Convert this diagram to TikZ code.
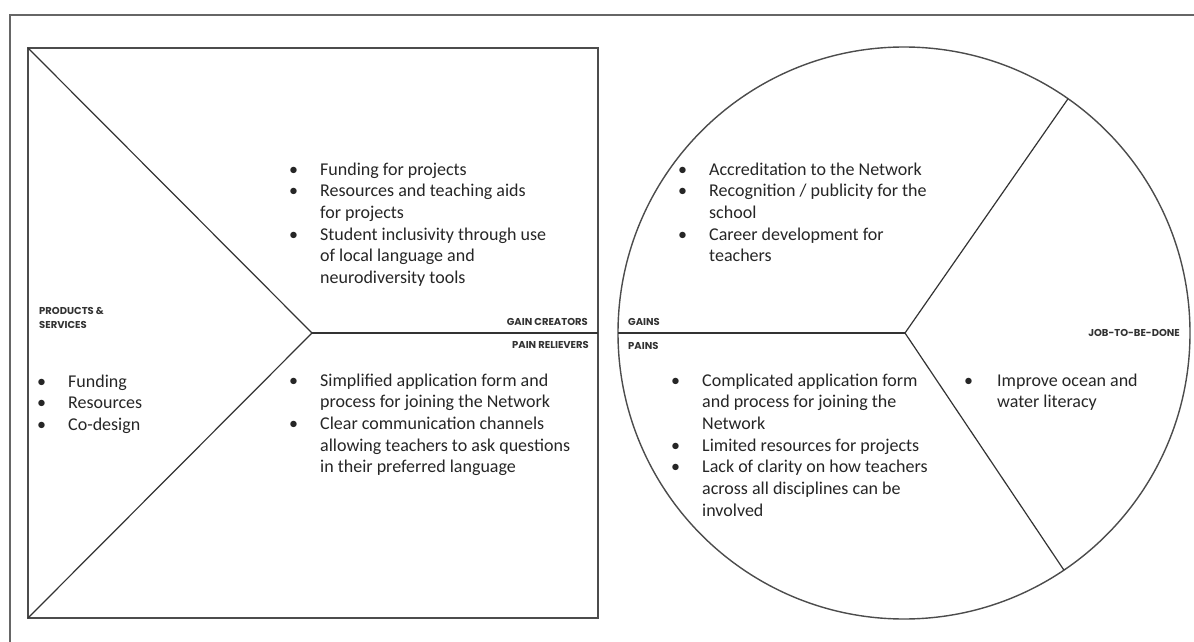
\documentclass[tikz,border=0pt]{standalone}
\usepackage{fontspec}
\setmainfont{Carlito}
\newfontfamily\capsfont{Poppins}
\usetikzlibrary{calc}

% bulleted block: first column holds the bullet, second the text lines
\newcommand{\blist}[1]{\begin{tabular}[t]{@{}p{31pt}@{}l@{}}#1\end{tabular}}

\tikzset{
  frameline/.style={draw=black!60, line width=1.6pt},
  boxline/.style={draw=black!70, line width=1.4pt},
  splitline/.style={draw=black!80, line width=1.2pt},
  tag/.style={font=\capsfont\bfseries\fontsize{10}{14.5}\selectfont,
    inner sep=0pt, text=black!80, align=left},
  list/.style={font=\fontsize{18}{21.7}\selectfont, inner sep=0pt,
    anchor=base west, text=black!85},
}

\begin{document}
\begin{tikzpicture}[x=1pt, y=-1pt]
  \useasboundingbox (0,0) rectangle (1194,642);
  \fill[white] (0,0) rectangle (1194,642);

  % outer frame (only its top and left edges fall on the page)
  \draw[frameline] (10,642) -- (10,15) -- (1194,15);

  % ---- value map: square split into three parts ----
  \coordinate (sqTL) at (28,48);
  \coordinate (sqBL) at (28,618);
  \coordinate (sqR)  at (598,333);
  \coordinate (vx)   at (312,333);
  \draw[boxline] (28,48) rectangle (598,618);
  \draw[splitline] (sqTL) -- (vx) -- (sqBL);
  \draw[splitline] (vx) -- (sqR);

  % ---- customer profile: circle split into three parts ----
  \coordinate (cc) at (904,333);
  \coordinate (cx) at (905,333);
  \coordinate (cL) at ($(cc)+(180:286)$);
  \coordinate (cUR) at ($(cc)+(-55:286)$);
  \coordinate (cLR) at ($(cc)+(56:286)$);
  \draw[boxline] (cc) circle[radius=286];
  \draw[splitline] (cL) -- (cx);
  \draw[splitline] (cUR) -- (cx) -- (cLR);

  % ---- section headings ----
  \node[tag, anchor=base west] (tProd) at (39,328.5) {PRODUCTS \&\\SERVICES};
  \node[tag, anchor=base east] (tGC) at (588,325.5) {GAIN CREATORS};
  \node[tag, anchor=base east] (tPR) at (589,348.5) {PAIN RELIEVERS};
  \node[tag, anchor=base west] (tGains) at (628,325.5) {GAINS};
  \node[tag, anchor=base west] (tPains) at (628,349) {PAINS};
  \node[tag, anchor=base east] (tJob) at (1180,336) {JOB-TO-BE-DONE};

  % ---- section contents ----
  \node[list] (lProd) at (37,387) {\blist{%
    \textbullet & Funding\\
    \textbullet & Resources\\
    \textbullet & Co-design}};

  \node[list] (lGC) at (289,175) {\blist{%
    \textbullet & Funding for projects\\
    \textbullet & Resources and teaching aids\\
                & for projects\\
    \textbullet & Student inclusivity through use\\
                & of local language and\\
                & neurodiversity tools}};

  \node[list] (lPR) at (289,386) {\blist{%
    \textbullet & Simplified application form and\\
                & process for joining the Network\\
    \textbullet & Clear communication channels\\
                & allowing teachers to ask questions\\
                & in their preferred language}};

  \node[list] (lGains) at (678,175) {\blist{%
    \textbullet & Accreditation to the Network\\
    \textbullet & Recognition / publicity for the\\
                & school\\
    \textbullet & Career development for\\
                & teachers}};

  \node[list] (lPains) at (671,386) {\blist{%
    \textbullet & Complicated application form\\
                & and process for joining the\\
                & Network\\
    \textbullet & Limited resources for projects\\
    \textbullet & Lack of clarity on how teachers\\
                & across all disciplines can be\\
                & involved}};

  \node[list] (lJob) at (964,386) {\begin{tabular}[t]{@{}p{33pt}@{}l@{}}
    \textbullet & Improve ocean and\\
                & water literacy\end{tabular}};
\end{tikzpicture}
\end{document}
